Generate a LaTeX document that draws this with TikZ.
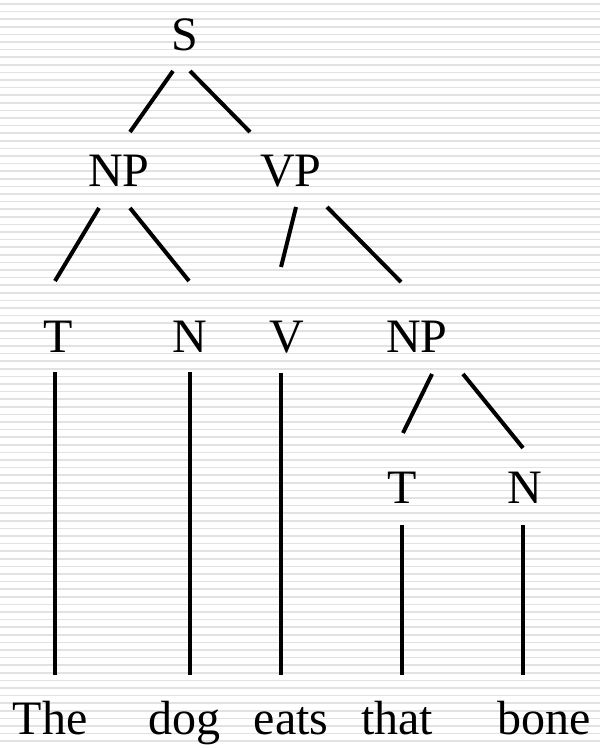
\documentclass[tikz,border=0pt]{standalone}
\usepackage{fontspec}
\setmainfont{Liberation Serif}
\usetikzlibrary{calc}
\definecolor{mystripe}{RGB}{226,226,226}
\tikzset{every picture/.style={line width=0.75pt}}
\tikzset{branch/.style={color=black, line width=3pt},
  cat/.style={font=\fontsize{36}{36}\selectfont, inner sep=0pt}}

\begin{document}
\begin{tikzpicture}[x=0.75pt,y=0.75pt,yscale=-1,xscale=1]
\useasboundingbox (0,0) rectangle (600,748);
%Background stripes
\fill [white] (0,0) rectangle (600,748);
\foreach \k in {0,...,97}
  \draw [color=mystripe, line width=1.2pt] (0,4+7.6*\k) -- (600,4+7.6*\k);

%Text nodes
\node [cat] (S) at (185,35) {S};
\node [cat] (NPa) at (119,171) {NP};
\node [cat] (VP) at (291,171) {VP};
\node [cat] (Ta) at (58,337) {T};
\node [cat] (Na) at (190,337) {N};
\node [cat] (V) at (287,337) {V};
\node [cat] (NPb) at (417,337) {NP};
\node [cat] (Tb) at (402,488) {T};
\node [cat] (Nb) at (525,488) {N};
\node [cat, anchor=base] (The) at (50,734) {The};
\node [cat, anchor=base] (dog) at (184,734) {dog};
\node [cat, anchor=base] (eats) at (291,734) {eats};
\node [cat, anchor=base] (that) at (397,734) {that};
\node [cat, anchor=base] (bone) at (544,734) {bone};

%Straight Lines
\draw [branch] ($(S)+(-12,36)$) -- ($(NPa)+(11,-39)$);
\draw [branch] ($(S)+(5,36)$) -- ($(VP)+(-41,-39)$);
%Straight Lines
\draw [branch] ($(NPa)+(-20,37)$) -- ($(Ta)+(-3,-56)$);
\draw [branch] ($(NPa)+(11,37)$) -- ($(Na)+(-1,-56)$);
\draw [branch] ($(VP)+(5,36)$) -- ($(V)+(-6,-70)$);
\draw [branch] ($(VP)+(36,36)$) -- ($(NPb)+(-16,-55)$);
%Straight Lines
\draw [branch] ($(NPb)+(15,37)$) -- ($(Tb)+(1,-55)$);
\draw [branch] ($(NPb)+(46,37)$) -- ($(Nb)+(-2,-40)$);
%Straight Lines
\draw [branch] ($(Ta)+(-3,35)$) -- ($(The.base)+(5,-59)$);
\draw [branch] ($(Na)+(0,35)$) -- ($(dog.base)+(6,-59)$);
\draw [branch] ($(V)+(-6,36)$) -- ($(eats.base)+(-10,-59)$);
\draw [branch] ($(Tb)+(0,37)$) -- ($(that.base)+(5,-59)$);
\draw [branch] ($(Nb)+(-2,37)$) -- ($(bone.base)+(-21,-59)$);
\end{tikzpicture}
\end{document}
